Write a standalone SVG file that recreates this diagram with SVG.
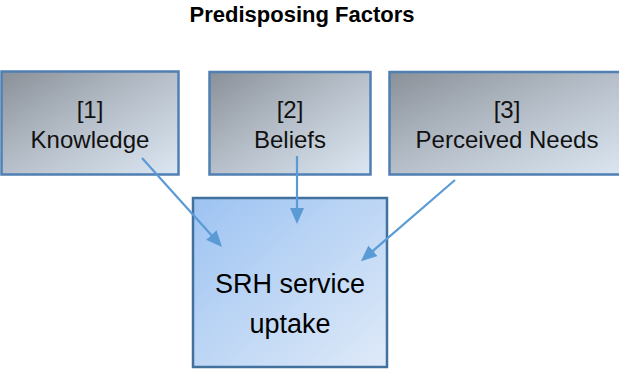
<svg xmlns="http://www.w3.org/2000/svg" width="619" height="369" viewBox="0 0 619 369">
  <style>
    .title { font-family: "Liberation Sans", Arial, sans-serif; font-weight: bold; font-size: 22px; fill: #000; }
    .factor rect { fill: url(#greyFill); stroke: #4f7fb3; stroke-width: 2.5; }
    .factor text { font-family: "Liberation Sans", Arial, sans-serif; font-size: 24px; fill: #111; }
    .outcome rect { fill: url(#blueFill); stroke: #41719c; stroke-width: 2.5; }
    .outcome text { font-family: "Liberation Sans", Arial, sans-serif; font-size: 27px; fill: #000; }
    .link { stroke: #5b9bd5; stroke-width: 2.2; fill: none; }
  </style>
  <defs>
    <linearGradient id="greyFill" x1="0" y1="0" x2="1" y2="1">
      <stop offset="0" stop-color="#8a9098"/>
      <stop offset="0.5" stop-color="#b7c0ca"/>
      <stop offset="1" stop-color="#dce7f3"/>
    </linearGradient>
    <linearGradient id="blueFill" x1="0" y1="0" x2="1" y2="1">
      <stop offset="0" stop-color="#9dc3f2"/>
      <stop offset="1" stop-color="#dfeaf8"/>
    </linearGradient>
    <marker id="head" markerUnits="userSpaceOnUse" markerWidth="18" markerHeight="16" refX="4" refY="7" orient="auto">
      <path d="M0,0 L16,7 L0,14 Z" fill="#5b9bd5"/>
    </marker>
  </defs>

  <rect width="619" height="369" fill="#ffffff"/>

  <text class="title" x="302" y="22" text-anchor="middle">Predisposing Factors</text>

  <g id="knowledge" class="factor">
    <rect x="1.5" y="71.5" width="177" height="103"/>
    <text x="90" y="118" text-anchor="middle">[1]</text>
    <text x="90" y="148" text-anchor="middle">Knowledge</text>
  </g>

  <g id="beliefs" class="factor">
    <rect x="209.5" y="72" width="161" height="102.5"/>
    <text x="290" y="118" text-anchor="middle">[2]</text>
    <text x="290" y="148" text-anchor="middle">Beliefs</text>
  </g>

  <g id="perceived-needs" class="factor">
    <rect x="389.5" y="72" width="240" height="102.5"/>
    <text x="507" y="118" text-anchor="middle">[3]</text>
    <text x="507" y="148" text-anchor="middle">Perceived Needs</text>
  </g>

  <g id="srh-uptake" class="outcome">
    <rect x="193" y="198" width="194" height="169"/>
    <text x="290" y="293" text-anchor="middle">SRH service</text>
    <text x="290" y="333" text-anchor="middle">uptake</text>
  </g>

  <g id="connectors">
    <line class="link" x1="142" y1="158" x2="214" y2="238" marker-end="url(#head)"/>
    <line class="link" x1="297" y1="156" x2="297" y2="212" marker-end="url(#head)"/>
    <line class="link" x1="455" y1="180" x2="370" y2="253.3" marker-end="url(#head)"/>
  </g>
</svg>
